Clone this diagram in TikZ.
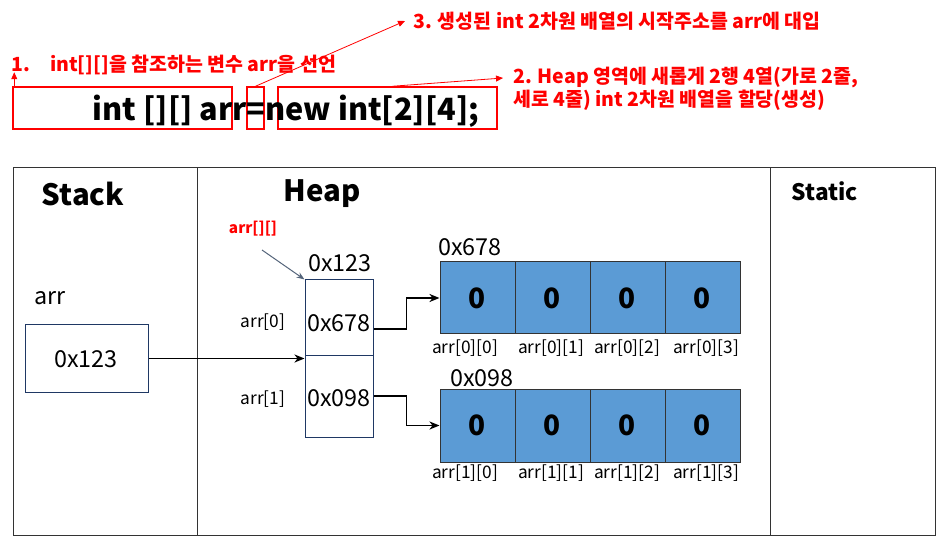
\documentclass[tikz,border=0pt]{standalone}
\usepackage{fontspec}
\setmainfont{Noto Sans CJK KR}
\usetikzlibrary{arrows.meta,calc}
\def\pxu{0.75pt}
\definecolor{cellblue}{RGB}{91,155,213}
\definecolor{navy}{RGB}{31,56,100}
\definecolor{slate}{RGB}{84,100,122}
\tikzset{
  redbox/.style={draw=red, line width=1.5*\pxu, inner sep=0pt},
  redtxt/.style={text=red, font=\fontsize{14.6}{17}\selectfont\bfseries, inner sep=0pt},
  redarrow/.style={draw=red, line width=0.8*\pxu, -{Triangle[length=7*\pxu,width=6*\pxu]}},
  cellbox/.style={draw=black!80, fill=cellblue, line width=1*\pxu, minimum width=75*\pxu, inner sep=0pt, font=\fontsize{21}{24}\selectfont\bfseries},
  idx/.style={font=\fontsize{13}{15}\selectfont, inner sep=0pt},
  addr/.style={font=\fontsize{17.5}{20}\selectfont, inner sep=0pt},
  memtitle/.style={font=\fontsize{22}{26}\selectfont\bfseries, inner sep=0pt},
  linkarrow/.style={draw=black, line width=1.8*\pxu, -{Stealth[length=10*\pxu,width=8*\pxu,inset=3*\pxu]}},
  navybox/.style={draw=navy, line width=1*\pxu, inner sep=0pt, minimum width=68*\pxu},
}
\begin{document}
\begin{tikzpicture}[x=0.75pt,y=-0.75pt]
\useasboundingbox (0,0) rectangle (947,549);
% code line
\node[redbox, minimum width=219*\pxu, minimum height=42*\pxu] (b1) at (122.5,108) {};
\node[redbox, minimum width=17*\pxu, minimum height=42*\pxu] (b2) at (255.5,108) {};
\node[redbox, minimum width=219*\pxu, minimum height=42*\pxu] (b3) at (387.5,108) {};
\node[font=\fontsize{23}{26}\selectfont\bfseries, inner sep=0pt] (code) at (286,111) {int [][] arr=new int[2][4];};
% red notes
\node[redtxt, anchor=west] (t1n) at (11,65) {1.};
\node[redtxt, anchor=west] (t1) at (50,65) {int[][]을 참조하는 변수 arr을 선언};
\node[redtxt, anchor=west] (t3) at (413,21) {3. 생성된 int 2차원 배열의 시작주소를 arr에 대입};
\node[redtxt, anchor=west] (t2a) at (513,77) {2. Heap 영역에 새롭게 2행 4열(가로 2줄,};
\node[redtxt, anchor=west] (t2b) at (513,100) {세로 4줄) int 2차원 배열을 할당(생성)};
\draw[redarrow] ([xshift=2*\pxu]b1.north west) -- ++(0,-14);
\draw[redarrow] (b2.north) -- ([xshift=-8*\pxu]t3.west);
\draw[redarrow] ([xshift=5*\pxu]b3.north) -- ([xshift=-10*\pxu,yshift=-1*\pxu]t2a.west);
% memory frame
\node[draw=black!80, line width=1*\pxu, minimum width=922*\pxu, minimum height=367*\pxu, inner sep=0pt] (frame) at (474,351.5) {};
\coordinate (d1) at (197,168);
\coordinate (d2) at (770,168);
\draw[black!80, line width=1*\pxu] (d1) -- (d1 |- frame.south);
\draw[black!80, line width=1*\pxu] (d2) -- (d2 |- frame.south);
\node[memtitle] (stack) at (83,194) {Stack};
\node[memtitle] (heap) at (322,194) {Heap};
\node[font=\fontsize{17}{20}\selectfont\bfseries, inner sep=0pt] (static) at (825,191) {Static};
% stack
\node[addr] (arrlbl) at (50,298) {arr};
\node[navybox, minimum width=123*\pxu, minimum height=67*\pxu] (sbox) at (86.5,358.5) {};
\node[addr] (sboxt) at (86,359) {0x123};
% heap pointer array
\node[text=red, font=\fontsize{11.5}{13}\selectfont\bfseries, inner sep=0pt] (arrpp) at (253,229) {arr[][]};
\node[addr] (h123) at (340,263) {0x123};
\node[navybox, minimum height=75*\pxu] (h0) at (339,317.5) {};
\node[navybox, minimum height=82*\pxu] (h1) at (339,396) {};
\node[addr] (h0t) at (339,323) {0x678};
\node[addr] (h1t) at (339,398) {0x098};
\node[idx] (a0) at (263,322) {arr[0]};
\node[idx] (a1) at (263,399) {arr[1]};
\coordinate (g0) at (262,250);
\draw[slate, line width=1*\pxu, -{Stealth[length=8*\pxu,width=6*\pxu]}] (g0) -- (h0.north west);
% rows
\node[addr, anchor=west] (r0lbl) at (438,247) {0x678};
\node[addr, anchor=west] (r1lbl) at (450,378) {0x098};
\foreach \i/\x/\lx in {0/477.5/465,1/552.5/551,2/627.5/627,3/702.5/706}{
  \node[cellbox, minimum height=72*\pxu] (c0\i) at (\x,298) {0};
  \node[cellbox, minimum height=73*\pxu] (c1\i) at (\x,425.5) {0};
  \node[idx] (l0\i) at (\lx,348) {arr[0][\i]};
  \node[idx] (l1\i) at (\lx,473) {arr[1][\i]};
}
% connectors
\draw[linkarrow] (sbox.east) -- (sbox.east -| h1.west);
\draw[linkarrow] ([yshift=-11.5*\pxu]h0.east) -- ++(33,0) |- (c00.west);
\draw[linkarrow] (h1.east) -- ++(33,0) |- (c10.west);
\end{tikzpicture}
\end{document}
